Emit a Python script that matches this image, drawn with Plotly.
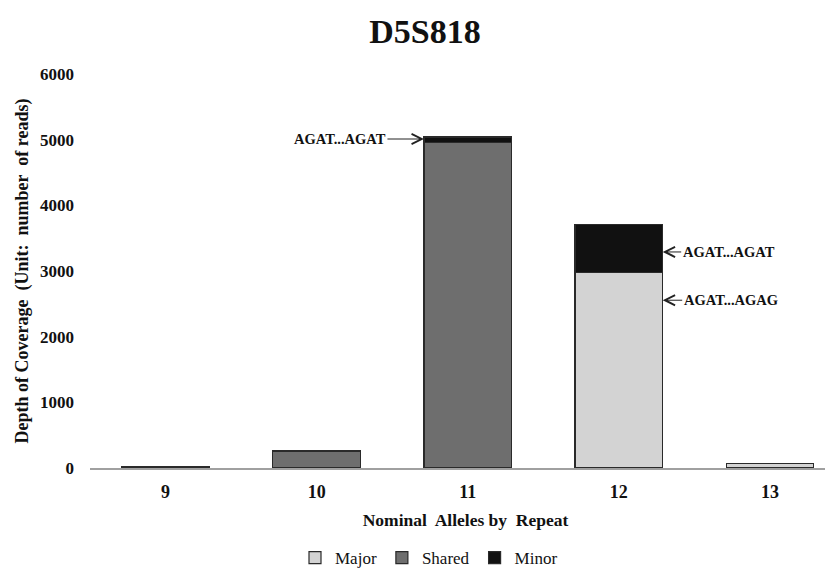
import plotly.graph_objects as go

categories = ["9", "10", "11", "12", "13"]
major = [0, 0, 0, 2980, 70]
shared = [0, 260, 4960, 0, 0]
minor = [25, 0, 80, 730, 0]

series = [("Major", major, "#d3d3d3"), ("Shared", shared, "#6e6e6e"), ("Minor", minor, "#111111")]

ann_text = ["AGAT...AGAT", "AGAT...AGAT", "AGAT...AGAG"]
ann_cat = [2, 3, 3]
ann_side = [-1, 1, 1]
ann_y = [5010, 3290, 2555]
ann_ax = [-84, 66, 68]

BW = 0.58
FONT = "Liberation Serif"
OFF = 8  # page body margin offset

fig = go.Figure()
for name, vals, col in series:
    fig.add_trace(go.Bar(
        x=list(range(len(categories))), y=vals, name=name, width=BW,
        marker=dict(color=col, line=dict(color="#2a2a2a", width=1.2)),
    ))

for t, c, s, yv, ax in zip(ann_text, ann_cat, ann_side, ann_y, ann_ax):
    fig.add_annotation(
        x=c + s * BW / 2, y=yv, xref="x", yref="y", text=f"<b>{t}</b>",
        showarrow=True, ax=ax, ay=0, arrowhead=5, arrowsize=2, arrowwidth=1,
        arrowcolor="#222", font=dict(family=FONT, size=14.5, color="#111"),
    )

fig.update_layout(
    barmode="stack",
    width=833, height=575,
    margin=dict(l=90 - OFF, r=0, t=74 - OFF, b=575 - 468 + OFF),
    paper_bgcolor="white", plot_bgcolor="white",
    font=dict(family=FONT, color="#111"),
    title=dict(text="<b>D5S818</b>", x=417 / 833, xanchor="center", y=1 - 23 / 575,
               yanchor="middle", font=dict(family=FONT, size=34, color="#111")),
    xaxis=dict(
        tickmode="array", tickvals=list(range(len(categories))), ticktext=categories,
        range=[-0.5, 4.47], showline=True, linecolor="#a0a0a0", linewidth=1.5,
        showgrid=False, zeroline=False, ticks="", automargin=False,
        ticklabelstandoff=7,
        tickfont=dict(family=FONT, size=18, color="#111", weight="bold"),
        title=dict(text="<b>Nominal  Alleles by  Repeat</b>", standoff=12,
                   font=dict(family=FONT, size=17.5, color="#111")),
    ),
    yaxis=dict(
        range=[0, 6000], tickvals=[0, 1000, 2000, 3000, 4000, 5000, 6000],
        showgrid=False, zeroline=False, showline=False, ticks="", automargin=False,
        ticklabelstandoff=15,
        tickfont=dict(family=FONT, size=17, color="#111", weight="bold"),
        tickformat="d",
        title=dict(text="<b>Depth of Coverage  (Unit:  number  of reads)</b>", standoff=6,
                   font=dict(family=FONT, size=18, color="#111")),
    ),
    legend=dict(orientation="h", x=(429 - 90) / 751, xanchor="center",
                y=(468 - 558) / 394, yanchor="middle",
                font=dict(family=FONT, size=17, color="#111"),
                itemwidth=30, traceorder="normal"),
    bargap=0.42,
)

fig.write_html("out.html")
